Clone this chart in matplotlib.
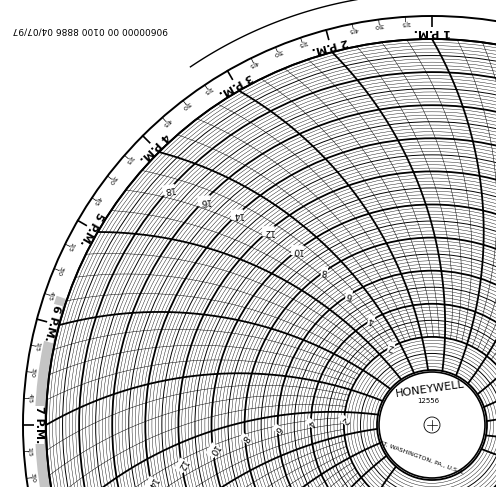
import numpy as np
import matplotlib
matplotlib.use("Agg")
import matplotlib.pyplot as plt
from matplotlib.patches import Circle, Wedge

# chart data
hour_labels = ["1 P.M.", "2 P.M.", "3 P.M.", "4 P.M.", "5 P.M.", "6 P.M.", "7 P.M.", "8 P.M."]
minute_labels = ["1|5", "3|0", "4|5"]
scale_labels = [2, 4, 6, 8, 10, 12, 14, 16, 18]
lower_labels = [2, 4, 6, 8, 10, 12, 14]
scale_max = 20

W, H = 496, 487
cx, cy = 432, H - 425
R = 386.0      # outer grid radius
r0 = 55.0      # hub radius
band_out = 409.0

fig = plt.figure(figsize=(W/100, H/100), dpi=100)
ax = fig.add_axes([0, 0, 1, 1])
ax.set_xlim(0, W); ax.set_ylim(0, H); ax.axis('off')
ax.set_aspect('equal')

def val2r(v):
    return r0 + v * (R - r0) / scale_max

def hour_angle(h):  # h hours after 1 P.M.
    return 90 + 15 * h

ax.add_patch(Wedge((cx, cy), R + 11, 161, 200, width=11, color='#c4c4c4', lw=0))

# concentric circles
for i in range(0, scale_max * 5 + 1):
    v = i / 5
    r = val2r(v)
    if i % 10 == 0:
        lw = 1.3
    elif i % 5 == 0:
        lw = 0.7
    else:
        lw = 0.3
    ax.add_patch(Circle((cx, cy), r, fill=False, lw=lw, color='black'))

# time arcs
def arc_pts(theta, rmin=r0, rmax=R, n=200):
    r = np.linspace(rmin, rmax, n)
    alpha = np.degrees(np.arccos(r / (2 * R)))
    phi = np.radians(theta + 60 - alpha)
    return cx + r * np.cos(phi), cy + r * np.sin(phi)

for k in range(-24, 48):
    h = k / 4
    th = hour_angle(h)
    major = (k % 4 == 0)
    rmin = r0 if major else val2r(2)
    x, y = arc_pts(th, rmin)
    ax.plot(x, y, color='black', lw=1.3 if major else 0.35)

# outer band
ax.add_patch(Circle((cx, cy), R, fill=False, lw=1.4, color='black'))
ax.add_patch(Circle((cx, cy), band_out, fill=False, lw=1.4, color='black'))
tt = np.radians(np.linspace(100, 124, 100))
ax.plot(cx + 432 * np.cos(tt), cy + 432 * np.sin(tt), color='black', lw=1)

for i, lab in enumerate(hour_labels):
    th = hour_angle(i)
    t = np.radians(th)
    ax.plot([cx + (R + 12) * np.cos(t), cx + band_out * np.cos(t)],
            [cy + (R + 12) * np.sin(t), cy + band_out * np.sin(t)], color='black', lw=1.2)
    ax.text(cx + (R + 7) * np.cos(t), cy + (R + 7) * np.sin(t), lab, rotation=th + 90,
            ha='center', va='center', fontsize=8, fontweight='bold',
            rotation_mode='anchor', bbox=dict(fc='white', ec='none', pad=0.3))
    for j, m in enumerate(minute_labels):
        mt = np.radians(th + 3.75 * (j + 1))
        ax.plot([cx + (band_out - 5) * np.cos(mt), cx + band_out * np.cos(mt)],
                [cy + (band_out - 5) * np.sin(mt), cy + band_out * np.sin(mt)],
                color='black', lw=0.5)
        ax.text(cx + 403 * np.cos(mt), cy + 403 * np.sin(mt), m, rotation=th + 3.75 * (j + 1) + 90,
                ha='center', va='center', fontsize=4.5, rotation_mode='anchor')

# scale labels along arcs
def label_arc(theta, vals):
    for v in vals:
        r = val2r(v)
        alpha = np.degrees(np.arccos(r / (2 * R)))
        phi = theta + 60 - alpha
        p = np.radians(phi)
        ax.text(cx + r * np.cos(p), cy + r * np.sin(p), str(v), rotation=phi + 90 - 40,
                ha='center', va='center', fontsize=6.5,
                bbox=dict(fc='white', ec='none', pad=0.4))

label_arc(141, scale_labels)
label_arc(200, lower_labels)

# hub
ax.add_patch(Circle((cx, cy), r0 - 2, fc='white', ec='black', lw=1.2, zorder=5))
ax.add_patch(Circle((cx, cy), 8, fill=False, ec='black', lw=0.6, zorder=6))
ax.plot([cx - 5, cx + 5], [cy, cy], color='black', lw=0.5, zorder=6)
ax.plot([cx, cx], [cy - 5, cy + 5], color='black', lw=0.5, zorder=6)
ax.text(cx - 2, cy + 36, "HONEYWELL", ha='center', va='center', fontsize=8, rotation=8, zorder=7)
ax.text(cx - 4, cy + 24, "12556", ha='center', va='center', fontsize=5, zorder=7)
ax.text(cx - 10, cy - 33, "FT. WASHINGTON, PA., U.S.A.", ha='center', va='center',
        fontsize=4.5, rotation=-20, zorder=7)

ax.text(90, H - 30, "90600000 00 0100 8886 04/07/97", rotation=180, ha='center', va='center',
        fontsize=6.5)

fig.savefig("out.png", dpi=100, facecolor='white')
